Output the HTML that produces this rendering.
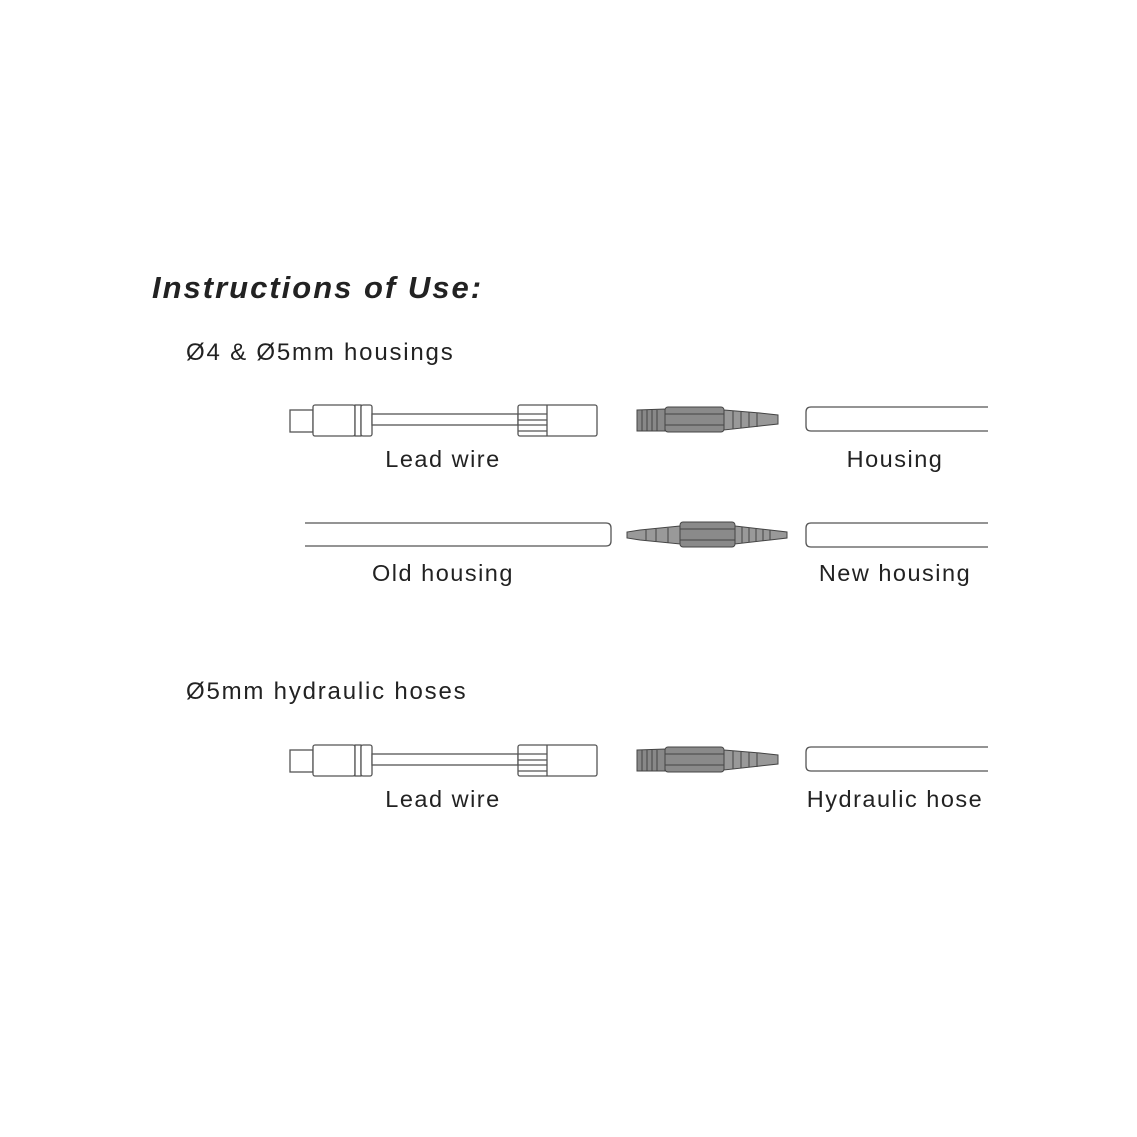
<!DOCTYPE html>
<html><head><meta charset="utf-8"><style>
html,body{margin:0;padding:0;background:#fff;}
svg{display:block;}
text{font-family:"Liberation Sans","DejaVu Sans",sans-serif;fill:#222;}
.lbl{font-size:23.5px;letter-spacing:1.5px;text-anchor:middle;}
</style></head><body>
<svg width="1137" height="1137" viewBox="0 0 1137 1137" xmlns="http://www.w3.org/2000/svg">
<defs>
<g id="lead" fill="#fff" stroke="#555" stroke-width="1.3">
  <rect x="290" y="410" width="23" height="22"/>
  <rect x="313" y="405" width="42" height="31" rx="2"/>
  <rect x="355" y="405" width="6" height="31"/>
  <rect x="361" y="405" width="11" height="31" rx="2"/>
  <rect x="372" y="414" width="146" height="11"/>
  <rect x="518" y="405" width="79" height="31" rx="2"/>
  <line x1="547" y1="405" x2="547" y2="436"/>
  <line x1="518" y1="414" x2="547" y2="414"/>
  <line x1="518" y1="420" x2="547" y2="420"/>
  <line x1="518" y1="425" x2="547" y2="425"/>
  <line x1="518" y1="431" x2="547" y2="431"/>
</g>
<g id="conn1" stroke="#444" stroke-width="1">
  <path d="M637 410 L665 409 L665 431 L637 431 Z" fill="#888"/>
  <line x1="642" y1="410" x2="642" y2="431"/><line x1="647" y1="410" x2="647" y2="431"/><line x1="652" y1="410" x2="652" y2="431"/><line x1="657" y1="410" x2="657" y2="431"/>
  <rect x="665" y="407" width="59" height="25" rx="3" fill="#8a8a8a"/>
  <line x1="665" y1="414" x2="724" y2="414"/><line x1="665" y1="425" x2="724" y2="425"/>
  <path d="M724 410 L760 413 L778 415 L778 424 L760 426 L724 430 Z" fill="#999"/>
  <line x1="733" y1="411" x2="733" y2="429"/><line x1="741" y1="412" x2="741" y2="428"/><line x1="749" y1="412" x2="749" y2="427"/><line x1="757" y1="413" x2="757" y2="427"/>
</g>
<g id="house" fill="#fff" stroke="#555" stroke-width="1.3">
  <path d="M988 407 L811 407 Q806 407 806 412 L806 426 Q806 431 811 431 L988 431"/>
</g>
</defs>

<text x="152" y="298" style="font-size:31px;font-weight:bold;font-style:italic;letter-spacing:2px;">Instructions of Use:</text>
<text x="186" y="360" style="font-size:24px;letter-spacing:1.8px;">Ø4 &amp; Ø5mm housings</text>

<use href="#lead"/>
<use href="#conn1"/>
<use href="#house"/>
<text class="lbl" x="443" y="467">Lead wire</text>
<text class="lbl" x="895" y="467">Housing</text>

<path d="M305 523 L606 523 Q611 523 611 528 L611 541 Q611 546 606 546 L305 546" fill="#fff" stroke="#555" stroke-width="1.3"/>
<g stroke="#444" stroke-width="1">
  <path d="M680 526 L640 530 L627 532 L627 538 L640 540 L680 544 Z" fill="#999"/>
  <line x1="646" y1="530" x2="646" y2="540"/><line x1="656" y1="529" x2="656" y2="541"/><line x1="668" y1="528" x2="668" y2="543"/>
  <rect x="680" y="522" width="55" height="25" rx="3" fill="#8a8a8a"/>
  <line x1="680" y1="529" x2="735" y2="529"/><line x1="680" y1="540" x2="735" y2="540"/>
  <path d="M735 526 L770 530 L787 532 L787 538 L770 540 L735 544 Z" fill="#999"/>
  <line x1="742" y1="527" x2="742" y2="543"/><line x1="749" y1="528" x2="749" y2="542"/><line x1="756" y1="529" x2="756" y2="541"/><line x1="763" y1="529" x2="763" y2="541"/><line x1="770" y1="530" x2="770" y2="540"/>
</g>
<g transform="translate(0,116)"><use href="#house"/></g>
<text class="lbl" x="443" y="581">Old housing</text>
<text class="lbl" x="895" y="581">New housing</text>

<text x="186" y="699" style="font-size:24px;letter-spacing:1.8px;">Ø5mm hydraulic hoses</text>
<g transform="translate(0,340)">
<use href="#lead"/>
<use href="#conn1"/>
<use href="#house"/>
</g>
<text class="lbl" x="443" y="807">Lead wire</text>
<text class="lbl" x="895" y="807">Hydraulic hose</text>
</svg>
</body></html>
